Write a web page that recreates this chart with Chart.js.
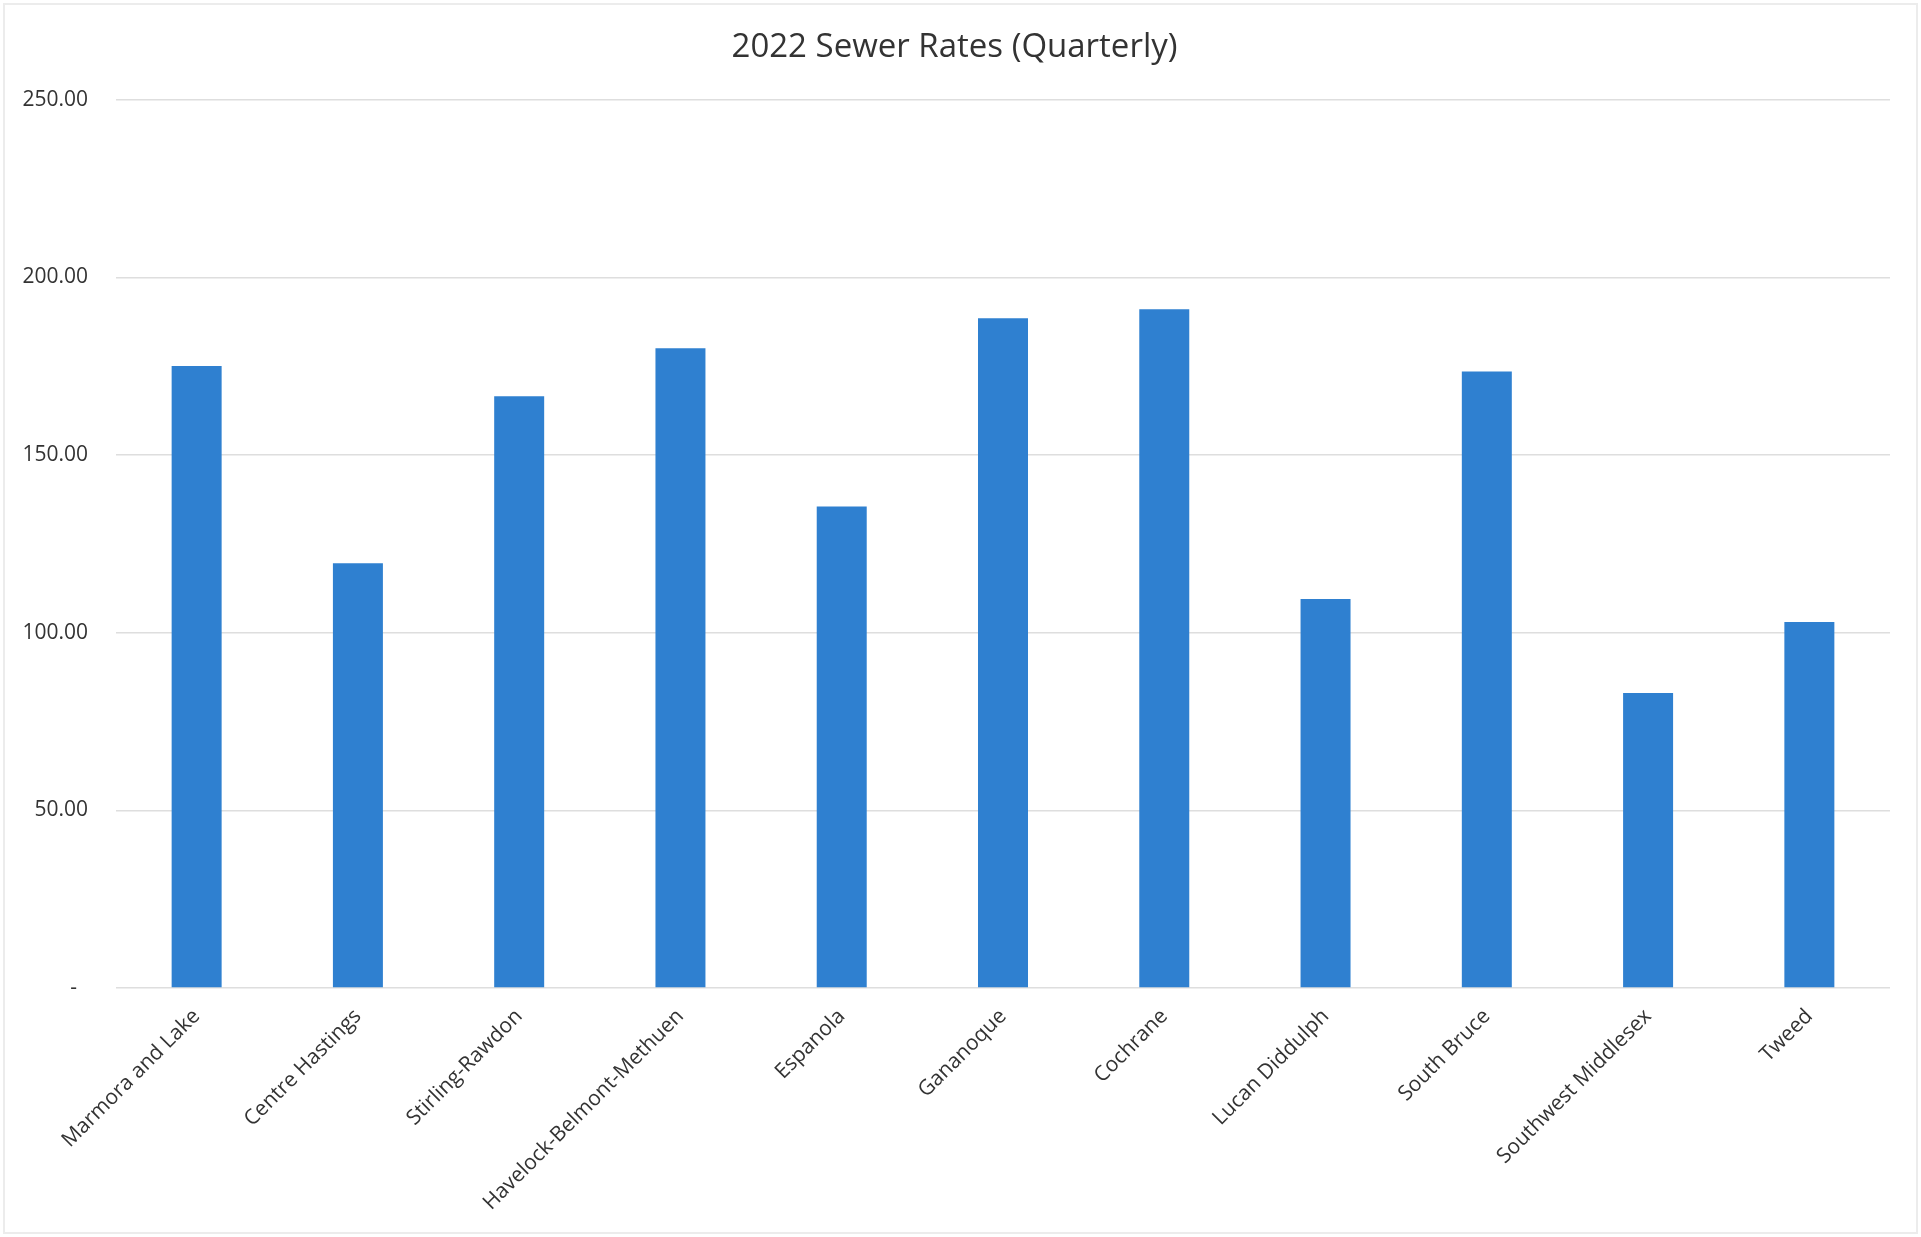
<!DOCTYPE html>
<html lang="en">
<head>
    <meta charset="UTF-8">
    <title>2022 Sewer Rates (Quarterly)</title>
    <script src="https://cdn.jsdelivr.net/npm/chart.js"></script>
    <style>
        html, body {
            margin: 0;
            padding: 0;
            background: #ffffff;
        }
        .chart-box {
            position: relative;
            width: 1921px;
            height: 1237px;
            outline: 2px solid #ececec;
            outline-offset: -5px;
        }
    </style>
</head>
<body>
    <div class="chart-box">
        <canvas id="sewerChart"></canvas>
    </div>

    <script>
        const municipalities = [
            'Marmora and Lake', 'Centre Hastings', 'Stirling-Rawdon', 'Havelock-Belmont-Methuen',
            'Espanola', 'Gananoque', 'Cochrane', 'Lucan Diddulph', 'South Bruce',
            'Southwest Middlesex', 'Tweed'
        ];
        const quarterlyRates = [175.0, 119.5, 166.5, 180.0, 135.5, 188.5, 191.0, 109.5, 173.5, 83.0, 103.0];
        const rateTicks = [0, 50, 100, 150, 200, 250];

        const textColor = '#333333';
        const fontFamily = "'Open Sans', 'Liberation Sans', sans-serif";

        const ctx = document.getElementById('sewerChart').getContext('2d');
        const sewerChart = new Chart(ctx, {
            type: 'bar',
            data: {
                labels: municipalities,
                datasets: [{
                    label: '2022 Sewer Rates',
                    data: quarterlyRates,
                    backgroundColor: '#2f80d0',
                    borderWidth: 0,
                    barPercentage: 0.31,
                    categoryPercentage: 1.0
                }]
            },
            options: {
                responsive: true,
                maintainAspectRatio: false,
                animation: false,
                layout: {
                    padding: { top: 0, right: 31, bottom: 0, left: 19 }
                },
                plugins: {
                    legend: { display: false },
                    tooltip: { enabled: false },
                    title: {
                        display: true,
                        text: '2022 Sewer Rates (Quarterly)',
                        color: textColor,
                        font: { family: fontFamily, size: 33, weight: 'normal' },
                        padding: { top: 28, bottom: 32 }
                    }
                },
                scales: {
                    x: {
                        grid: { display: false },
                        border: { display: false },
                        ticks: {
                            color: textColor,
                            font: { family: fontFamily, size: 21 },
                            minRotation: 45,
                            maxRotation: 45,
                            autoSkip: false,
                            padding: 8
                        },
                        afterFit: (scale) => { scale.height = 249; }
                    },
                    y: {
                        min: 0,
                        max: 250,
                        afterBuildTicks: (scale) => {
                            scale.ticks = rateTicks.map(v => ({ value: v }));
                        },
                        grid: { color: '#dedede', lineWidth: 1.5, drawTicks: false },
                        border: { display: false },
                        ticks: {
                            color: textColor,
                            font: { family: fontFamily, size: 21 },
                            padding: 28,
                            callback: (value) => value === 0 ? '-  ' : value.toFixed(2)
                        },
                        afterFit: (scale) => { scale.width = 97; }
                    }
                }
            }
        });
    </script>
</body>
</html>
